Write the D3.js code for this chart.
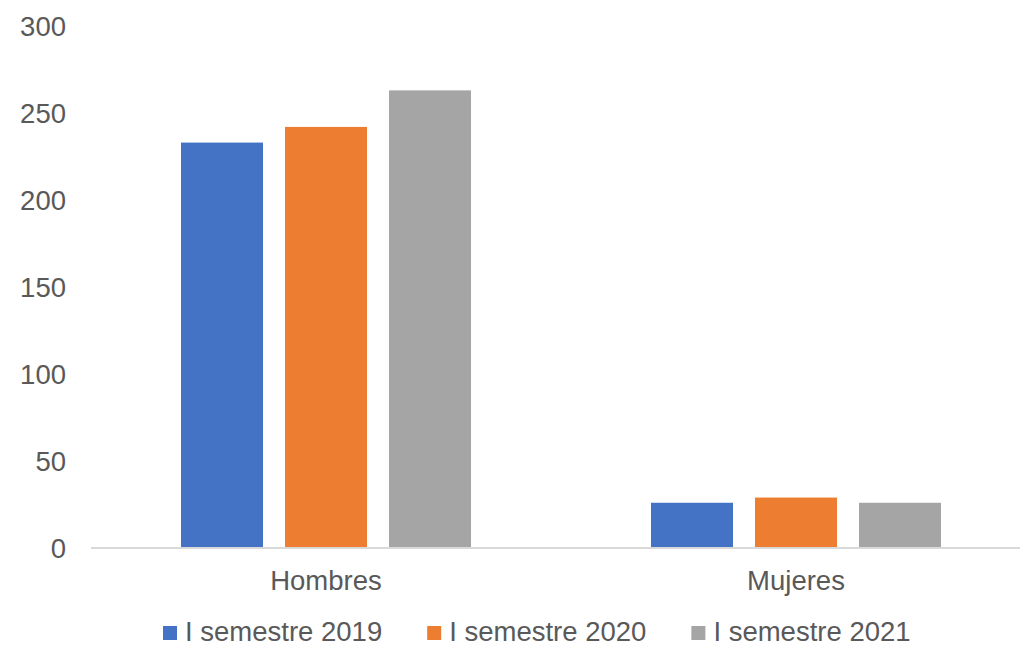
<!DOCTYPE html>
<html>
<head>
<meta charset="utf-8">
<script src="https://cdn.jsdelivr.net/npm/d3@7/dist/d3.min.js"></script>
<style>
  html, body { margin: 0; padding: 0; background: #fff; }
  svg { display: block; }
  text { font-family: "Liberation Sans", Arial, sans-serif; fill: #595959; }
</style>
</head>
<body>
<svg id="chart" width="1020" height="647"></svg>
<script>
const categories = ["Hombres", "Mujeres"];
const seriesNames = ["I semestre 2019", "I semestre 2020", "I semestre 2021"];
const values2019 = [233, 26];
const values2020 = [242, 29];
const values2021 = [263, 26];
const yTicks = [0, 50, 100, 150, 200, 250, 300];
const colors = ["#4472C4", "#ED7D31", "#A5A5A5"];

const seriesValues = [values2019, values2020, values2021];
const svg = d3.select("#chart");
const fontSize = 27.5;

const y = d3.scaleLinear().domain([0, 300]).range([548, 26]);
const x0 = d3.scaleBand().domain(categories).range([91, 1031]).padding(0);
const x1 = d3.scaleBand().domain(seriesNames).range([90, 380]).paddingInner(22 / 104).paddingOuter(0);

// y tick labels
svg.append("g").selectAll("text").data(yTicks).join("text")
  .attr("x", 66)
  .attr("y", d => y(d))
  .attr("dy", "0.35em")
  .attr("text-anchor", "end")
  .style("font-size", fontSize + "px")
  .text(d => d);

// bars
const groups = svg.append("g").selectAll("g").data(categories).join("g")
  .attr("transform", c => `translate(${x0(c)},0)`);
groups.selectAll("rect")
  .data((c, ci) => seriesNames.map((s, si) => ({ s, si, v: seriesValues[si][ci] })))
  .join("rect")
  .attr("x", d => x1(d.s))
  .attr("width", x1.bandwidth())
  .attr("y", d => y(d.v))
  .attr("height", d => y(0) - y(d.v))
  .attr("fill", d => colors[d.si]);

// x axis line
svg.append("line")
  .attr("x1", 91).attr("x2", 1020)
  .attr("y1", y(0)).attr("y2", y(0))
  .attr("stroke", "#d9d9d9").attr("stroke-width", 2);

// category labels
svg.append("g").selectAll("text").data(categories).join("text")
  .attr("x", c => x0(c) + x0.bandwidth() / 2)
  .attr("y", 590)
  .attr("text-anchor", "middle")
  .style("font-size", fontSize + "px")
  .text(c => c);

// legend
const legend = svg.append("g");
let lx = 163;
seriesNames.forEach((s, i) => {
  legend.append("rect")
    .attr("x", lx).attr("y", 626).attr("width", 14).attr("height", 14)
    .attr("fill", colors[i]);
  const t = legend.append("text")
    .attr("x", lx + 22).attr("y", 641)
    .style("font-size", fontSize + "px")
    .text(s);
  lx += 22 + t.node().getComputedTextLength() + 45;
});
</script>
</body>
</html>
